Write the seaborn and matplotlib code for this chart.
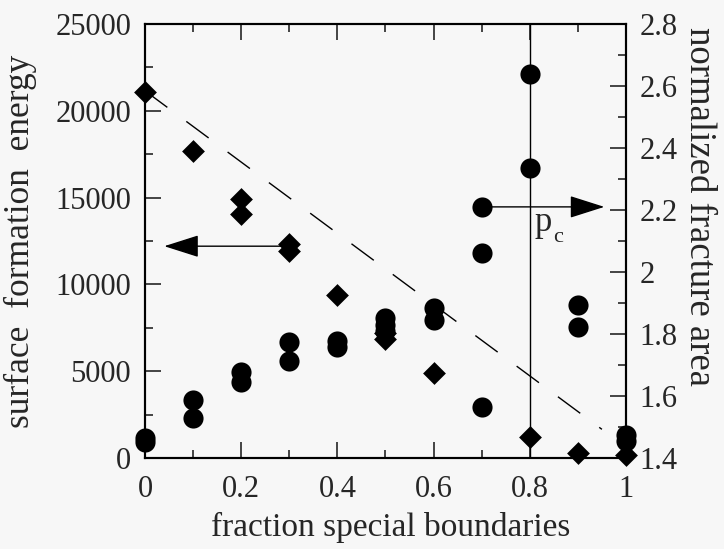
import numpy as np
import matplotlib
matplotlib.use('Agg')
import matplotlib.pyplot as plt
import seaborn as sns
from matplotlib.ticker import MultipleLocator, FuncFormatter

# Datos leidos del grafico
# energia de formacion de superficie (eje izquierdo, rombos)
x_energia = [0.0, 0.1, 0.2, 0.2, 0.3, 0.3, 0.4, 0.5, 0.5, 0.6, 0.8, 0.9, 1.0]
energia = [21100, 17700, 14900, 14050, 12300, 11950, 9400, 7200, 6850, 4900, 1200, 300, 150]

# area de fractura normalizada (eje derecho, circulos)
x_area = [0.0, 0.0, 0.1, 0.1, 0.2, 0.2, 0.3, 0.3, 0.4, 0.4, 0.5, 0.5, 0.5,
          0.6, 0.6, 0.7, 0.7, 0.7, 0.8, 0.8, 0.9, 0.9, 1.0, 1.0]
area = [1.465, 1.45, 1.587, 1.529, 1.677, 1.645, 1.774, 1.713, 1.777, 1.758, 1.852, 1.83, 1.81,
        1.884, 1.845, 2.21, 2.06, 1.565, 2.64, 2.335, 1.894, 1.823, 1.475, 1.455]

# recta de tendencia (discontinua) y umbral de percolacion
x_recta = [0.0, 0.95]
y_recta = [21150, 1650]
p_c = 0.8

sns.set_style("ticks")
plt.rcParams['font.family'] = ['Liberation Serif', 'DejaVu Serif']
fondo = '#f7f7f7'

fig = plt.figure(figsize=(7.24, 5.49), dpi=100, facecolor=fondo)
ax = fig.add_axes([0.2003, 0.1658, 0.6643, 0.7905], facecolor=fondo)
ax2 = ax.twinx()

sns.scatterplot(x=x_energia, y=energia, marker='D', s=135, color='black',
                linewidth=0, ax=ax, zorder=3, clip_on=False)
sns.lineplot(x=x_recta, y=y_recta, color='black', lw=1.0, ax=ax)
ax.lines[-1].set_linestyle((0, (20, 17)))
ax.axvline(p_c, color='black', lw=1.0)

sns.scatterplot(x=x_area, y=area, marker='o', s=210, color='black',
                linewidth=0, ax=ax2, zorder=3, clip_on=False)

ax.set_xlim(0, 1)
ax.set_ylim(0, 25000)
ax2.set_ylim(1.4, 2.8)

# flechas que indican el eje de cada serie
flecha = dict(arrowstyle='-|>,head_length=2.2,head_width=0.7', color='black',
              lw=1.0, shrinkA=0, shrinkB=0)
ax.annotate('', xy=(0.04, 12200), xytext=(0.3, 12200), arrowprops=flecha)
ax2.annotate('', xy=(0.955, 2.21), xytext=(0.7, 2.21), arrowprops=flecha)
ax2.text(0.81, 2.16, 'p', fontsize=25, ha='left', va='center')
ax2.text(0.848, 2.11, 'c', fontsize=16, ha='left', va='center')

fmt = FuncFormatter(lambda v, p: f'{v:g}')
ax.xaxis.set_major_locator(MultipleLocator(0.2))
ax.xaxis.set_minor_locator(MultipleLocator(0.1))
ax.yaxis.set_major_locator(MultipleLocator(5000))
ax.yaxis.set_minor_locator(MultipleLocator(2500))
ax2.yaxis.set_major_locator(MultipleLocator(0.2))
ax2.yaxis.set_minor_locator(MultipleLocator(0.1))
ax.xaxis.set_major_formatter(fmt)
ax.yaxis.set_major_formatter(fmt)
ax2.yaxis.set_major_formatter(fmt)

ax.tick_params(axis='x', which='both', direction='in', top=True, bottom=True, labelsize=22, pad=12)
ax.tick_params(axis='y', which='both', direction='in', left=True, right=False, labelsize=22, pad=10)
ax2.tick_params(axis='y', which='both', direction='in', right=True, labelsize=22, pad=10)
for a in (ax, ax2):
    a.tick_params(which='major', length=11.5, width=1.2)
    a.tick_params(which='minor', length=6, width=1.2)
    for s in a.spines.values():
        s.set_linewidth(1.5)
        s.set_color('black')

ax.set_xlabel('fraction special boundaries', fontsize=24)
ax.xaxis.set_label_coords(0.51, -0.125)
ax.set_ylabel('surface  formation  energy', fontsize=25.5, labelpad=13)
ax2.set_ylabel('normalized fracture area', fontsize=26.5, rotation=270, labelpad=28)
ax2.yaxis.label.set_y(0.58)

fig.savefig('out.png', dpi=100, facecolor=fondo)
